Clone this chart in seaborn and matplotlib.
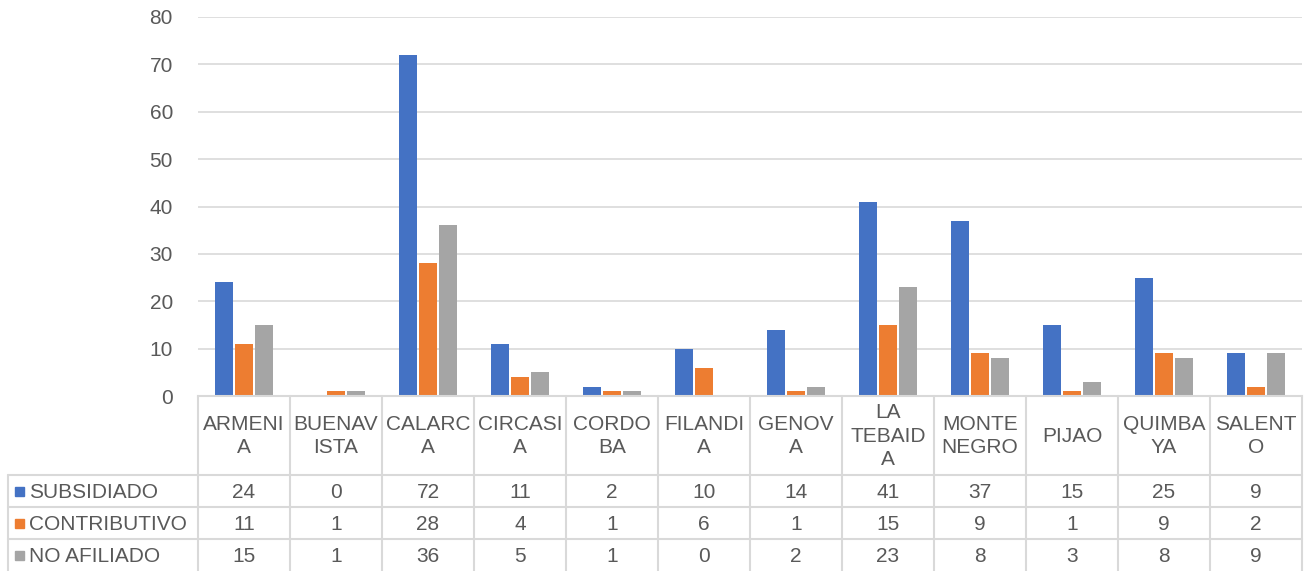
import pandas as pd
import matplotlib
matplotlib.use('Agg')
import matplotlib.pyplot as plt
import matplotlib.transforms as mtransforms
import seaborn as sns

municipios = ['ARMENIA', 'BUENAVISTA', 'CALARCA', 'CIRCASIA', 'CORDOBA', 'FILANDIA',
              'GENOVA', 'LA TEBAIDA', 'MONTENEGRO', 'PIJAO', 'QUIMBAYA', 'SALENTO']
# labels as wrapped in the table header
etiquetas = ['ARMENI\nA', 'BUENAV\nISTA', 'CALARC\nA', 'CIRCASI\nA', 'CORDO\nBA', 'FILANDI\nA',
             'GENOV\nA', 'LA\nTEBAID\nA', 'MONTE\nNEGRO', 'PIJAO', 'QUIMBA\nYA', 'SALENT\nO']
regimenes = ['SUBSIDIADO', 'CONTRIBUTIVO', 'NO AFILIADO']
subsidiado = [24, 0, 72, 11, 2, 10, 14, 41, 37, 15, 25, 9]
contributivo = [11, 1, 28, 4, 1, 6, 1, 15, 9, 1, 9, 2]
no_afiliado = [15, 1, 36, 5, 1, 0, 2, 23, 8, 3, 8, 9]
colores = ['#4472C4', '#ED7D31', '#A5A5A5']

series = [subsidiado, contributivo, no_afiliado]
df = pd.DataFrame({
    'municipio': municipios * 3,
    'regimen': [r for r in regimenes for _ in municipios],
    'valor': subsidiado + contributivo + no_afiliado,
})

sns.set_style('white')
plt.rcParams['font.family'] = ['Liberation Sans', 'DejaVu Sans']
texto = '#595959'
linea = '#D9D9D9'
fs = 15

W, H = 1309, 571
fig = plt.figure(figsize=(W / 100, H / 100), dpi=100)
ax = fig.add_axes([198 / W, 1 - 396 / H, (1302 - 198) / W, (396 - 17) / H])

sns.barplot(data=df, x='municipio', y='valor', hue='regimen', order=municipios,
            hue_order=regimenes, palette=colores, width=0.65, gap=0.14,
            saturation=1, linewidth=0, ax=ax, legend=False)

ax.set_ylim(0, 80)
ax.set_xlim(-0.5, len(municipios) - 0.5)
ax.set_yticks(range(0, 81, 10))
ax.yaxis.grid(True, color=linea, linewidth=1.2)
ax.set_axisbelow(True)
ax.tick_params(axis='y', length=0, labelsize=fs, labelcolor=texto, pad=18)
ax.tick_params(axis='x', length=0, labelbottom=False)
ax.set_xlabel('')
ax.set_ylabel('')
for s in ['top', 'right', 'left']:
    ax.spines[s].set_visible(False)
ax.spines['bottom'].set_color(linea)
ax.spines['bottom'].set_linewidth(1.5)

# data table below the chart
def fy(py):
    return 1 - py / H

def fx(px):
    return px / W

tr = mtransforms.blended_transform_factory(ax.transData, fig.transFigure)
filas = [475, 507, 539, 571]
n = len(municipios)

# vertical lines
for i in range(n + 1):
    fig.add_artist(plt.Line2D([i - 0.5, i - 0.5], [fy(396), fy(571)], transform=tr,
                              color=linea, linewidth=1.5))
fig.add_artist(plt.Line2D([fx(8), fx(8)], [fy(475), fy(571)], transform=fig.transFigure,
                          color=linea, linewidth=1.5))
# horizontal lines
for py in filas[:-1]:
    fig.add_artist(plt.Line2D([fx(8), fx(1302)], [fy(py), fy(py)], transform=fig.transFigure,
                              color=linea, linewidth=1.5))

# header labels
for i, lab in enumerate(etiquetas):
    fig.text(i, fy(436), lab, transform=tr, ha='center', va='center',
             fontsize=fs, color=texto, linespacing=1.3)

# rows
for r, (nombre, vals, col) in enumerate(zip(regimenes, series, colores)):
    yc = fy((filas[r] + filas[r + 1]) / 2 + 1)
    fig.patches.append(plt.Rectangle((fx(15), yc - 4 / H), 9 / W, 9 / H,
                                     transform=fig.transFigure, color=col, figure=fig))
    fig.text(fx(29), yc, nombre, ha='left', va='center', fontsize=fs, color=texto)
    for i, v in enumerate(vals):
        fig.text(i, yc, str(v), transform=tr, ha='center', va='center',
                 fontsize=fs, color=texto)

fig.savefig('out.png', dpi=100)
